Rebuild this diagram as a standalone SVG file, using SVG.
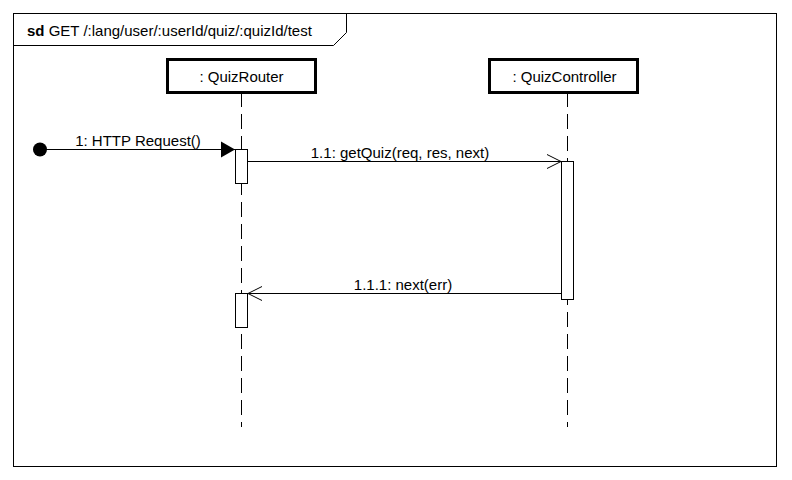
<svg xmlns="http://www.w3.org/2000/svg" width="792" height="480" viewBox="0 0 792 480">
<defs>
<style>
text{font-family:"Liberation Sans",Arial,sans-serif;font-size:15px;fill:#000}
.box{fill:#fff;stroke:#000;stroke-width:3}
.life{stroke:#000;stroke-width:1;stroke-dasharray:15 7;fill:none}
.act{fill:#fff;stroke:#000;stroke-width:1}
.msg{stroke:#000;stroke-width:1;fill:none}
</style>
<marker id="open" viewBox="0 0 16 16" markerWidth="16" markerHeight="16" refX="15" refY="8" orient="auto" markerUnits="userSpaceOnUse">
<path d="M1,1 L15,8 L1,15" fill="none" stroke="#000" stroke-width="1"/>
</marker>
<marker id="filled" viewBox="0 0 16 18" markerWidth="16" markerHeight="18" refX="15" refY="9" orient="auto" markerUnits="userSpaceOnUse">
<path d="M1,1 L15,9 L1,17 Z" fill="#000"/>
</marker>
</defs>
<rect width="792" height="480" fill="#fff"/>
<g id="frame">
<rect x="13.5" y="13.5" width="763" height="453" fill="none" stroke="#000" stroke-width="1"/>
<path d="M13.5,45.5 H333.5 L346.5,32.5 V13.5" fill="none" stroke="#000" stroke-width="1"/>
<text x="27" y="36" font-size="16"><tspan font-weight="bold">sd</tspan> GET /:lang/user/:userId/quiz/:quizId/test</text>
</g>
<g id="QuizRouter">
<line class="life" x1="241.5" y1="92" x2="241.5" y2="427"/>
<rect class="box" x="167.5" y="59.5" width="148" height="33"/>
<text x="241.5" y="82" text-anchor="middle">: QuizRouter</text>
</g>
<g id="QuizController">
<line class="life" x1="567.5" y1="92" x2="567.5" y2="427"/>
<rect class="box" x="489.5" y="59.5" width="148" height="33"/>
<text x="564.5" y="82" text-anchor="middle">: QuizController</text>
</g>
<g id="activations">
<rect class="act" x="235.5" y="149.5" width="12" height="34"/>
<rect class="act" x="561.5" y="161.5" width="12" height="138"/>
<rect class="act" x="235.5" y="293.5" width="12" height="34"/>
</g>
<g id="start">
<circle cx="40" cy="149.5" r="7" fill="#000"/>
</g>
<g id="connectors">
<line class="msg" x1="40" y1="149.5" x2="235" y2="149.5" marker-end="url(#filled)"/>
<text x="138" y="146" text-anchor="middle">1: HTTP Request()</text>
<line class="msg" x1="247.5" y1="161.5" x2="561" y2="161.5" marker-end="url(#open)"/>
<text x="400" y="158" text-anchor="middle">1.1: getQuiz(req, res, next)</text>
<line class="msg" x1="561.5" y1="293.5" x2="248" y2="293.5" marker-end="url(#open)"/>
<text x="403" y="290" text-anchor="middle">1.1.1: next(err)</text>
</g>
</svg>
